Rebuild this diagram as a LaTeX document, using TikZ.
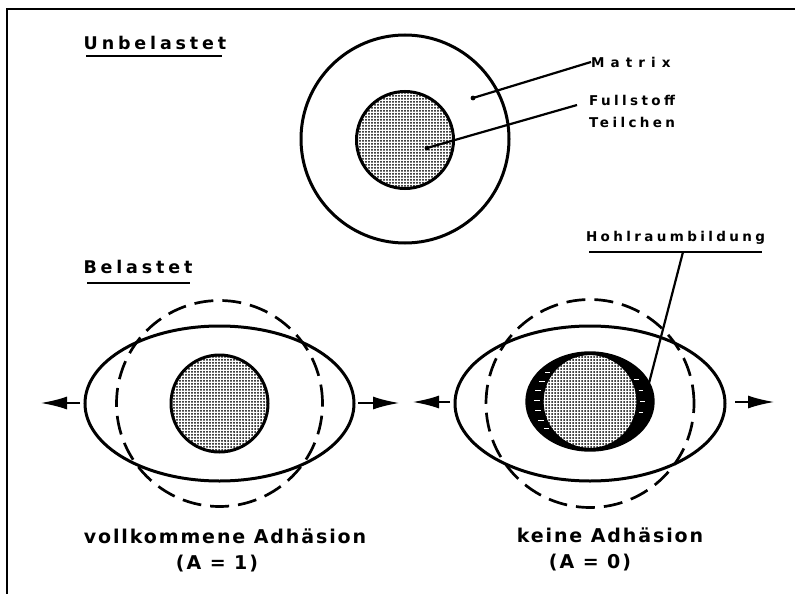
\documentclass[tikz,border=0pt]{standalone}
\usepackage{fontspec}
\setmainfont{DejaVu Sans}
\newfontfamily\ttlfont{DejaVu Sans}[LetterSpace=22]
\newfontfamily\labfont{DejaVu Sans}[LetterSpace=25]
\newfontfamily\matfont{DejaVu Sans}[LetterSpace=45]
\newfontfamily\botfont{DejaVu Sans}[LetterSpace=10]
\usetikzlibrary{patterns,arrows.meta}
\pgfdeclarepatternformonly{fdots}{\pgfqpoint{-1.2pt}{-1.2pt}}{\pgfqpoint{2pt}{2pt}}{\pgfqpoint{3pt}{3pt}}{\pgfpathcircle{\pgfqpoint{0pt}{0pt}}{1.0pt}\pgfusepath{fill}}
\begin{document}
\begin{tikzpicture}[x=1pt,y=-1pt,
  heavy/.style={line width=3pt},
  dashcirc/.style={line width=2.7pt, dash pattern=on 19pt off 9pt},
  particle/.style={pattern=fdots, line width=3pt},
  leader/.style={line width=2.2pt},
  ttl/.style={inner sep=0pt, font=\ttlfont\bfseries\fontsize{17.5}{20}\selectfont},
  lab/.style={inner sep=0pt, font=\labfont\bfseries\fontsize{13.5}{16}\selectfont},
  matlab/.style={inner sep=0pt, font=\matfont\bfseries\fontsize{13.5}{16}\selectfont},
  bot/.style={inner sep=0pt, font=\botfont\bfseries\fontsize{19}{22}\selectfont},
  pull/.style={line width=2.6pt, -{Latex[length=27pt,width=13pt]}}]
\useasboundingbox (0,0) rectangle (795,594);
% frame
\draw[line width=2pt] (7,594) -- (7,9.5) -- (795,9.5);

% titles
\node[ttl, anchor=base] (unb) at (155,49.5) {Unbelastet};
\draw[line width=2pt] (86,56) -- (222,56);
\node[ttl, anchor=base] (bel) at (138,273) {Belastet};
\draw[line width=2pt] (87,282.5) -- (190,282.5);

% unloaded
\coordinate (c0) at (405,139);
\draw[heavy] (c0) circle[radius=104pt];
\draw[particle] (405,140) circle[radius=48.5pt];
\node[matlab, anchor=base west] (matrix) at (591,67) {Matrix};
\node[lab, anchor=base west] (fuell) at (589,105) {Fullstoff};
\node[lab, anchor=base west] (teil) at (589,127) {Teilchen};
\coordinate (m1) at (473,98);
\coordinate (f1) at (427,148);
\coordinate (f2) at (577,105);
\draw[leader] (m1) -- (matrix.west);
\draw[leader] (f1) -- (f2);
\fill (m1) circle[radius=2.4pt];
\fill (f1) circle[radius=2.4pt];

% loaded, full adhesion
\coordinate (c1) at (219.5,403.5);
\draw[dashcirc] (c1) circle[radius=103pt];
\draw[heavy] (c1) ellipse[x radius=134.5pt, y radius=77.5pt];
\draw[particle] (c1) circle[radius=48.5pt];
\coordinate (a1) at (80,403);
\coordinate (a2) at (40,403);
\coordinate (a3) at (358,403);
\coordinate (a4) at (400,403);
\draw[pull] (a1) -- (a2);
\draw[pull] (a3) -- (a4);
\node[bot, anchor=base] (vk) at (225,543) {vollkommene Adhäsion};
\node[bot, anchor=base] (a1t) at (217,569) {(A = 1)};

% loaded, no adhesion
\coordinate (c2) at (590,403.5);
\coordinate (p2) at (590,401.5);
\draw[dashcirc] (c2) circle[radius=104pt];
\draw[heavy] (c2) ellipse[x radius=135pt, y radius=77.5pt];
\fill (p2) ellipse[x radius=63pt, y radius=48.5pt];
\foreach \t in {145,157,...,217}
  \draw[white, line width=1pt] ({590+50*cos(\t)},{401.5+47.5*sin(\t)}) -- ({590+56*cos(\t)},{401.5+47.5*sin(\t)});
\foreach \t in {-28,-14,0,14}
  \draw[white, line width=1pt] ({590+50*cos(\t)},{401.5+47.5*sin(\t)}) -- ({590+55*cos(\t)},{401.5+47.5*sin(\t)});
\fill[white] (p2) circle[radius=47.5pt];
\draw[pattern=fdots, line width=2.2pt] (p2) circle[radius=47.5pt];
\draw[line width=3.4pt] (p2) ellipse[x radius=63pt, y radius=48.5pt];
\coordinate (b1) at (450,402);
\coordinate (b2) at (412,402);
\coordinate (b3) at (735,402);
\coordinate (b4) at (775,402);
\draw[pull] (b1) -- (b2);
\draw[pull] (b3) -- (b4);
\node[lab, anchor=base] (hohl) at (675.5,241) {Hohlraumbildung};
\draw[line width=2pt] (589,252) -- (762,252);
\coordinate (h1) at (683,252);
\coordinate (h2) at (648,387);
\draw[leader] (h1) -- (h2);
\node[bot, anchor=base] (ke) at (610,542) {keine Adhäsion};
\node[bot, anchor=base] (a0t) at (590,568) {(A = 0)};
\end{tikzpicture}
\end{document}
